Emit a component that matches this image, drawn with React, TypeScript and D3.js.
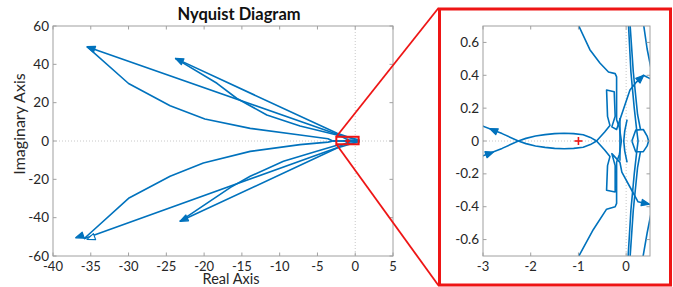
import React from "react";
import * as d3 from "d3";

type Pt = [number, number];

// ---- main Nyquist plot, far-out branches (real, imag) ----
const upperStraightA: Pt[] = [[-1.05, 0.74], [-2.4, 3.5], [-35.5, 49.2]];
const upperCurveB: Pt[] = [[-35.5, 49.2], [-30, 30], [-24.5, 18.4], [-19.9, 11.5], [-13.9, 6.6], [-7.3, 3.1], [-3.6, 1.2], [-3.05, 0.11]];
const upperStraightC: Pt[] = [[0.04, 0.76], [-2.4, 4.0], [-23.8, 43.1]];
const upperCurveD: Pt[] = [[-23.8, 43.1], [-18.3, 30.1], [-15.7, 22.3], [-11.7, 13.6], [-7.3, 7.8], [-2.4, 3.1], [0.34, 0.76]];

const lowerStraightA: Pt[] = [[-1.05, -0.74], [-2.4, -3.5], [-35.9, -51]];
const lowerCurveB: Pt[] = [[-35.9, -51], [-30, -29.9], [-24.5, -18.4], [-20.1, -11.5], [-13.9, -5.4], [-7.3, -1.9], [-3.6, -0.6], [-3.05, -0.1]];
const lowerStraightC: Pt[] = [[0.03, -0.76], [-2.4, -3.7], [-23.2, -41.9]];
const lowerCurveD: Pt[] = [[-23.2, -41.9], [-16.5, -24.2], [-13.9, -18.4], [-9.5, -10.6], [-5.1, -5.4], [-2.4, -2.2], [0.32, -0.76]];

// ---- detail near the critical point ----
const lensLowerBranch: Pt[] = [
  [-3.05, 0.11], [-3.0, 0.09], [-2.6, 0.045], [-2.26, 0], [-2.1, -0.016], [-1.9, -0.03], [-1.7, -0.039],
  [-1.5, -0.045], [-1.3, -0.047], [-1.1, -0.045], [-0.9, -0.038], [-0.75, -0.022], [-0.62, 0], [-0.45, 0.055],
  [-0.34, 0.095], [-0.39, 0.15], [-0.41, 0.31], [-0.25, 0.3], [-0.23, 0.15], [-0.3, 0.086], [-0.2, 0.07],
  [-0.06, 0.19], [0.08, 0.31], [0.22, 0.36], [0.36, 0.4], [0.5, 0.38], [0.6, 0.37],
];
const lensUpperBranch: Pt[] = [
  [-3.05, -0.1], [-3.0, -0.09], [-2.6, -0.045], [-2.26, 0], [-2.1, 0.016], [-1.9, 0.03], [-1.7, 0.039],
  [-1.5, 0.045], [-1.3, 0.047], [-1.1, 0.045], [-0.9, 0.038], [-0.75, 0.022], [-0.62, 0], [-0.45, -0.055],
  [-0.34, -0.095], [-0.39, -0.15], [-0.41, -0.3], [-0.23, -0.31], [-0.23, -0.15], [-0.3, -0.077],
  [-0.13, -0.13], [-0.09, -0.19], [0.08, -0.28], [0.25, -0.37], [0.47, -0.385], [0.6, -0.39],
];
const outerBend: Pt[] = [
  [-1.05, 0.74], [-1.0, 0.705], [-0.76, 0.556], [-0.55, 0.475], [-0.37, 0.42], [-0.23, 0.41], [-0.2, 0.39],
  [-0.2, 0.13], [-0.14, 0.08], [-0.1, 0], [-0.14, -0.08], [-0.2, -0.13], [-0.2, -0.38], [-0.23, -0.4],
  [-0.41, -0.415], [-0.69, -0.54], [-1.0, -0.705], [-1.05, -0.74],
];
const steepPair: Pt[] = [[0.04, 0.76], [0.1, 0.42], [0.17, 0.2], [0.22, 0.07], [0.25, 0], [0.22, -0.07], [0.17, -0.2], [0.1, -0.42], [0.03, -0.76]];
const steepInnerUpper: Pt[] = [[0.07, 0.76], [0.15, 0.42], [0.24, 0.16], [0.3, 0.07]];
const steepInnerLower: Pt[] = [[0.07, -0.76], [0.15, -0.42], [0.24, -0.16], [0.3, -0.065]];
const rightExitUpper: Pt[] = [[0.34, 0.76], [0.44, 0.56], [0.55, 0.4]];
const rightExitLower: Pt[] = [[0.32, -0.76], [0.44, -0.56], [0.55, -0.4]];
const hexLoop: Pt[] = [[0.12, 0], [0.2, 0.066], [0.36, 0.07], [0.44, 0.03], [0.47, 0], [0.44, -0.03], [0.36, -0.065], [0.2, -0.065], [0.12, 0]];
const innerBar: Pt[] = [[-0.13, 0.14], [-0.13, -0.12]];
const innerParen: Pt[] = [[0.02, 0.13], [-0.03, 0.06], [-0.05, 0], [-0.03, -0.06], [0.02, -0.13]];

const mainCurves = [upperStraightA, upperCurveB, upperStraightC, upperCurveD, lowerStraightA, lowerCurveB, lowerStraightC, lowerCurveD];
const zoomCurves = [lensLowerBranch, lensUpperBranch, outerBend, steepPair, steepInnerUpper, steepInnerLower, rightExitUpper, rightExitLower, hexLoop, innerBar, innerParen];

// arrow heads: tip point and a point behind it on the line
const mainArrows: { tip: Pt; from: Pt; hollow?: boolean }[] = [
  { tip: [-35.5, 49.2], from: [-2.4, 3.5] },
  { tip: [-23.8, 43.1], from: [-2.4, 4.0] },
  { tip: [-37.0, -50.5], from: [-2.4, -3.5] },
  { tip: [-35.5, -51.3], from: [-2.4, -4.0], hollow: true },
  { tip: [-23.2, -41.9], from: [-2.4, -3.7] },
];
const zoomArrows: { tip: Pt; from: Pt; hollow?: boolean }[] = [
  { tip: [-2.86, 0.076], from: [-2.26, 0] },
  { tip: [-2.78, -0.067], from: [-3.0, -0.09] },
  { tip: [0.37, 0.4], from: [0.22, 0.36] },
  { tip: [0.49, -0.385], from: [0.25, -0.37] },
];

const criticalPoint: Pt = [-1, 0];

const mainXTicks = [-40, -35, -30, -25, -20, -15, -10, -5, 0, 5];
const mainYTicks = [-60, -40, -20, 0, 20, 40, 60];
const zoomXTicks = [-3, -2, -1, 0];
const zoomYTicks = [-0.6, -0.4, -0.2, 0, 0.2, 0.4, 0.6];
const zoomYLabels = ["-0.6", "-0.4", "-0.2", "0", "0.2", "0.4", "0.6"];

const BLUE = "#0072bd";
const RED = "#ee1515";
const AXIS = "#a0a0a0";
const TEXT = "#262626";
const FONT = "Lato, 'Open Sans', sans-serif";

function Arrow({ tip, from, hollow, x, y }: any) {
  const tx = x(tip[0]), ty = y(tip[1]);
  const fx = x(from[0]), fy = y(from[1]);
  const len = Math.hypot(tx - fx, ty - fy) || 1;
  const ux = (tx - fx) / len, uy = (ty - fy) / len;
  const L = 8, W = 3.2;
  const bx = tx - ux * L, by = ty - uy * L;
  const pts = [[tx, ty], [bx - uy * W, by + ux * W], [bx + uy * W, by - ux * W]];
  return (
    <polygon
      points={pts.map((p) => p.join(",")).join(" ")}
      fill={hollow ? "#fff" : BLUE}
      stroke={BLUE}
      strokeWidth={1.2}
      strokeLinejoin="round"
    />
  );
}

function Panel({ id, x, y, xTicks, yTicks, xLabels, yLabels, curves, arrows, crossSize }: any) {
  const [x0, x1] = x.range();
  const [y0, y1] = y.range(); // y0 bottom, y1 top
  const line = d3.line<Pt>().x((d) => x(d[0])).y((d) => y(d[1]));
  const cx = x(criticalPoint[0]), cy = y(criticalPoint[1]);
  return (
    <g>
      <defs>
        <clipPath id={id}>
          <rect x={x0} y={y1} width={x1 - x0} height={y0 - y1} />
        </clipPath>
      </defs>
      <rect x={x0} y={y1} width={x1 - x0} height={y0 - y1} fill="#fff" />
      {/* zero grid lines */}
      <line x1={x(0)} x2={x(0)} y1={y1} y2={y0} stroke="#c8c8c8" strokeDasharray="1,2" />
      <line x1={x0} x2={x1} y1={y(0)} y2={y(0)} stroke="#c8c8c8" strokeDasharray="1,2" />
      <g clipPath={`url(#${id})`}>
        {curves.map((c: Pt[], i: number) => (
          <path key={i} d={line(c) || ""} fill="none" stroke={BLUE} strokeWidth={1.6} strokeLinejoin="round" />
        ))}
        {arrows.map((a: any, i: number) => (
          <Arrow key={i} {...a} x={x} y={y} />
        ))}
        <g stroke={RED} strokeWidth={crossSize > 4 ? 2.4 : 1.6}>
          <line x1={cx - crossSize} x2={cx + crossSize} y1={cy} y2={cy} />
          <line x1={cx} x2={cx} y1={cy - crossSize} y2={cy + crossSize} />
        </g>
      </g>
      <rect x={x0} y={y1} width={x1 - x0} height={y0 - y1} fill="none" stroke={AXIS} strokeWidth={1} />
      {xTicks.map((t: number, i: number) => (
        <g key={"x" + i}>
          <line x1={x(t)} x2={x(t)} y1={y0} y2={y0 - 3.5} stroke={AXIS} />
          <line x1={x(t)} x2={x(t)} y1={y1} y2={y1 + 3.5} stroke={AXIS} />
          <text x={x(t)} y={y0 + 15} textAnchor="middle" fontSize={13} fill={TEXT} fontFamily={FONT}>
            {xLabels[i]}
          </text>
        </g>
      ))}
      {yTicks.map((t: number, i: number) => (
        <g key={"y" + i}>
          <line x1={x0} x2={x0 + 3.5} y1={y(t)} y2={y(t)} stroke={AXIS} />
          <line x1={x1} x2={x1 - 3.5} y1={y(t)} y2={y(t)} stroke={AXIS} />
          <text x={x0 - 4} y={y(t) + 4.5} textAnchor="end" fontSize={13.5} fill={TEXT} fontFamily={FONT}>
            {yLabels[i]}
          </text>
        </g>
      ))}
    </g>
  );
}

export default function App() {
  const xMain = d3.scaleLinear().domain([-40, 5]).range([53, 393]);
  const yMain = d3.scaleLinear().domain([-60, 60]).range([256, 26]);
  const xZoom = d3.scaleLinear().domain([-3, 0.5]).range([483, 650]);
  const yZoom = d3.scaleLinear().domain([-0.7, 0.7]).range([256, 26]);

  // small box marking the zoomed region in the main plot
  const bx0 = xMain(-2.5), bx1 = xMain(0.45);
  const by0 = yMain(2.2), by1 = yMain(-1.7);

  return (
    <svg
      width={673}
      height={287}
      style={{ position: "fixed", left: 0, top: 0, background: "#fff" }}
      fontFamily={FONT}
    >
      <rect width={673} height={287} fill="#fff" />
      <Panel
        id="clipMain"
        x={xMain}
        y={yMain}
        xTicks={mainXTicks}
        yTicks={mainYTicks}
        xLabels={mainXTicks.map(String)}
        yLabels={mainYTicks.map(String)}
        curves={[...mainCurves, ...zoomCurves]}
        arrows={mainArrows}
        crossSize={2.5}
      />
      <text x={239} y={19.5} textAnchor="middle" fontSize={16.5} fontWeight="bold" fill="#111">
        Nyquist Diagram
      </text>
      <text x={231} y={284} textAnchor="middle" fontSize={14.5} fill={TEXT}>
        Real Axis
      </text>
      <text transform="translate(25,124) rotate(-90)" textAnchor="middle" fontSize={16} fill={TEXT}>
        Imaginary Axis
      </text>

      <Panel
        id="clipZoom"
        x={xZoom}
        y={yZoom}
        xTicks={zoomXTicks}
        yTicks={zoomYTicks}
        xLabels={zoomXTicks.map(String)}
        yLabels={zoomYLabels}
        curves={zoomCurves}
        arrows={zoomArrows}
        crossSize={4}
      />

      {/* zoom indicator */}
      <rect x={bx0} y={by0} width={bx1 - bx0} height={by1 - by0} fill="none" stroke={RED} strokeWidth={2} />
      <line x1={bx0} y1={by0} x2={438.5} y2={8} stroke={RED} strokeWidth={1.8} />
      <line x1={bx0} y1={by1} x2={438.5} y2={285.5} stroke={RED} strokeWidth={1.8} />
      <rect x={439.5} y={9} width={231} height={276} fill="none" stroke={RED} strokeWidth={3} />
    </svg>
  );
}
